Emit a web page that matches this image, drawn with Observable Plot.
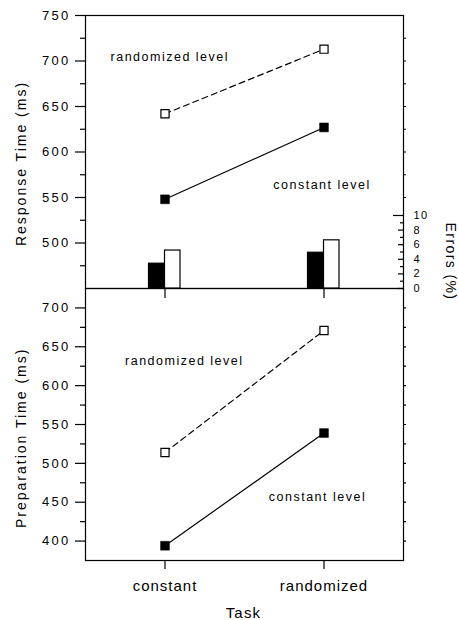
<!DOCTYPE html>
<html><head><meta charset="utf-8">
<script src="https://cdn.jsdelivr.net/npm/d3@7"></script>
<script src="https://cdn.jsdelivr.net/npm/@observablehq/plot@0.6"></script>
<style>
html,body{margin:0;padding:0;background:#fff;}
#chart{position:relative;width:459px;height:620px;overflow:hidden;font-family:"Liberation Sans",Arial,sans-serif;}
#chart svg{position:absolute;left:0;background:transparent;overflow:visible;}
svg.pt, svg.pe{top:0;}
svg.pb{top:288px;}
[aria-label="y-axis tick label"] text{letter-spacing:2.3px;}
svg.pe [aria-label="y-axis tick label"] text{letter-spacing:1.4px;}
[aria-label="x-axis tick label"] text{letter-spacing:1px;}
g.ann text{letter-spacing:1.5px;}
g.ttl text{letter-spacing:2px;}
g.ettl text{letter-spacing:1.4px;}
g.xttl text{letter-spacing:1.2px;}
</style></head><body><div id="chart"></div><script>
// ---- data ----
const tasks = ["constant", "randomized"];
const rtRandomizedLevel = [642, 713];
const rtConstantLevel = [548, 627];
const errConstantLevel = [3.4, 4.9];
const errRandomizedLevel = [5.2, 6.6];
const ptRandomizedLevel = [514, 671];
const ptConstantLevel = [394, 539];

const rtDomain = [450, 750];
const rtTicks = [500, 550, 600, 650, 700, 750];
const rtMinorTicks = [475, 525, 575, 625, 675, 725];
const rtRightTicks = [550, 575, 600, 625, 650, 675, 700, 725];
const ptDomain = [375, 725];
const ptTicks = [400, 450, 500, 550, 600, 650, 700];
const ptMinorTicks = [425, 475, 525, 575, 625, 675];
const ptRightTicks = [400, 425, 450, 475, 500, 525, 550, 575, 600, 625, 650, 675, 700];
const errDomain = [0, 10];
const errTicks = [0, 2, 4, 6, 8, 10];
const errMinorTicks = [1, 3, 5, 7, 9];

const rtTitle = "Response Time (ms)";
const ptTitle = "Preparation Time (ms)";
const errTitle = "Errors (%)";
const xTitle = "Task";
const randLabel = "randomized level";
const constLabel = "constant level";

// ---- helpers ----
const rows = (vals) => tasks.map((t, i) => ({task: t, value: vals[i]}));
const W = 459, ML = 85, MR = 56;
const font = "'Liberation Sans', Arial, sans-serif";
const xScale = {type: "band", domain: tasks, padding: 0};
const SW = 1.2;

function seriesMarks(openVals, filledVals) {
  return [
    Plot.line(rows(openVals), {x: "task", y: "value", stroke: "#000", strokeWidth: SW, strokeDasharray: "6,4"}),
    Plot.line(rows(filledVals), {x: "task", y: "value", stroke: "#000", strokeWidth: SW}),
    Plot.dot(rows(openVals), {x: "task", y: "value", symbol: "square", r: 4.6, fill: "#fff", stroke: "#000", strokeWidth: SW}),
    Plot.dot(rows(filledVals), {x: "task", y: "value", symbol: "square", r: 5, fill: "#000", stroke: "#000", strokeWidth: 0.5})
  ];
}

// ---- top panel: response time ----
const topPanel = Plot.plot({
  width: W, height: 300, marginLeft: ML, marginRight: MR, marginTop: 15, marginBottom: 12,
  className: "pt",
  style: {fontFamily: font, background: "transparent", color: "#000"},
  x: xScale,
  y: {domain: rtDomain},
  marks: [
    Plot.frame({stroke: "#000", strokeWidth: SW}),
    Plot.axisY({ticks: rtTicks, tickSize: 10, tickPadding: 5, fontSize: 13, label: null, strokeWidth: SW}),
    Plot.axisY({ticks: rtMinorTicks, tickSize: 5, tickFormat: () => "", label: null, strokeWidth: SW}),
    Plot.axisY({anchor: "right", ticks: rtRightTicks, tickSize: 2, tickFormat: () => "", label: null, strokeWidth: SW}),
    Plot.axisX({tickSize: 10, tickFormat: () => "", label: null, strokeWidth: SW}),
    ...seriesMarks(rtRandomizedLevel, rtConstantLevel),
    Plot.text([randLabel], {x: () => tasks[0], y: () => 704, dx: 4.8, fontSize: 12.5, className: "ann"}),
    Plot.text([constLabel], {x: () => tasks[1], y: () => 564, dx: -2, fontSize: 12.5, className: "ann"}),
    Plot.text([rtTitle], {frameAnchor: "left", textAnchor: "middle", lineAnchor: "middle", dx: -63.5, dy: 11.5, rotate: -90, fontSize: 14, className: "ttl"})
  ]
});

// ---- overlay: errors bars ----
const errPanel = Plot.plot({
  width: W, height: 300, marginLeft: ML, marginRight: MR, marginTop: 215, marginBottom: 12,
  className: "pe",
  style: {fontFamily: font, background: "transparent", color: "#000"},
  x: {...xScale, axis: null},
  y: {domain: errDomain},
  marks: [
    Plot.barY(rows(errConstantLevel), {x: "task", y: "value", fill: "#000", stroke: "#000", strokeWidth: SW, insetLeft: 63.5, insetRight: 79.5}),
    Plot.barY(rows(errRandomizedLevel), {x: "task", y: "value", fill: "#fff", stroke: "#000", strokeWidth: SW, insetLeft: 79.5, insetRight: 64}),
    Plot.tickY(errTicks.filter(d => d < 10), {y: d => d, stroke: "#000", strokeWidth: SW, insetLeft: 313}),
    Plot.tickY(errTicks.filter(d => d === 10), {y: d => d, stroke: "#000", strokeWidth: SW, insetLeft: 308}),
    Plot.tickY(errMinorTicks, {y: d => d, stroke: "#000", strokeWidth: SW, insetLeft: 315}),
    Plot.axisY({anchor: "right", ticks: errTicks, tickSize: 0, tickPadding: 10, fontSize: 11, label: null}),
    Plot.text([errTitle], {frameAnchor: "right", textAnchor: "middle", lineAnchor: "middle", dx: 46.5, dy: 9.5, rotate: 90, fontSize: 14, className: "ettl"})
  ]
});

// ---- bottom panel: preparation time ----
const bottomPanel = Plot.plot({
  width: W, height: 332, marginLeft: ML, marginRight: MR, marginTop: 0, marginBottom: 60,
  className: "pb",
  style: {fontFamily: font, background: "transparent", color: "#000"},
  x: xScale,
  y: {domain: ptDomain},
  marks: [
    Plot.frame({stroke: "#000", strokeWidth: SW}),
    Plot.axisY({ticks: ptTicks, tickSize: 10, tickPadding: 5, fontSize: 13, label: null, strokeWidth: SW}),
    Plot.axisY({ticks: ptMinorTicks, tickSize: 5, tickFormat: () => "", label: null, strokeWidth: SW}),
    Plot.axisY({anchor: "right", ticks: ptRightTicks, tickSize: 2, tickFormat: () => "", label: null, strokeWidth: SW}),
    Plot.axisX({tickSize: 9, tickPadding: 11, fontSize: 15, label: null, strokeWidth: SW}),
    ...seriesMarks(ptRandomizedLevel, ptConstantLevel),
    Plot.text([randLabel], {x: () => tasks[0], y: () => 632, dx: 19.3, fontSize: 12.5, className: "ann"}),
    Plot.text([constLabel], {x: () => tasks[1], y: () => 457, dx: -6.5, fontSize: 12.5, className: "ann"}),
    Plot.text([ptTitle], {frameAnchor: "left", textAnchor: "middle", lineAnchor: "middle", dx: -63.5, dy: 13.3, rotate: -90, fontSize: 14, className: "ttl"}),
    Plot.text([xTitle], {frameAnchor: "bottom", textAnchor: "middle", lineAnchor: "middle", dx: -1, dy: 52.5, fontSize: 15, className: "xttl"})
  ]
});

const chart = document.getElementById("chart");
chart.append(bottomPanel, topPanel, errPanel);
</script></body></html>
